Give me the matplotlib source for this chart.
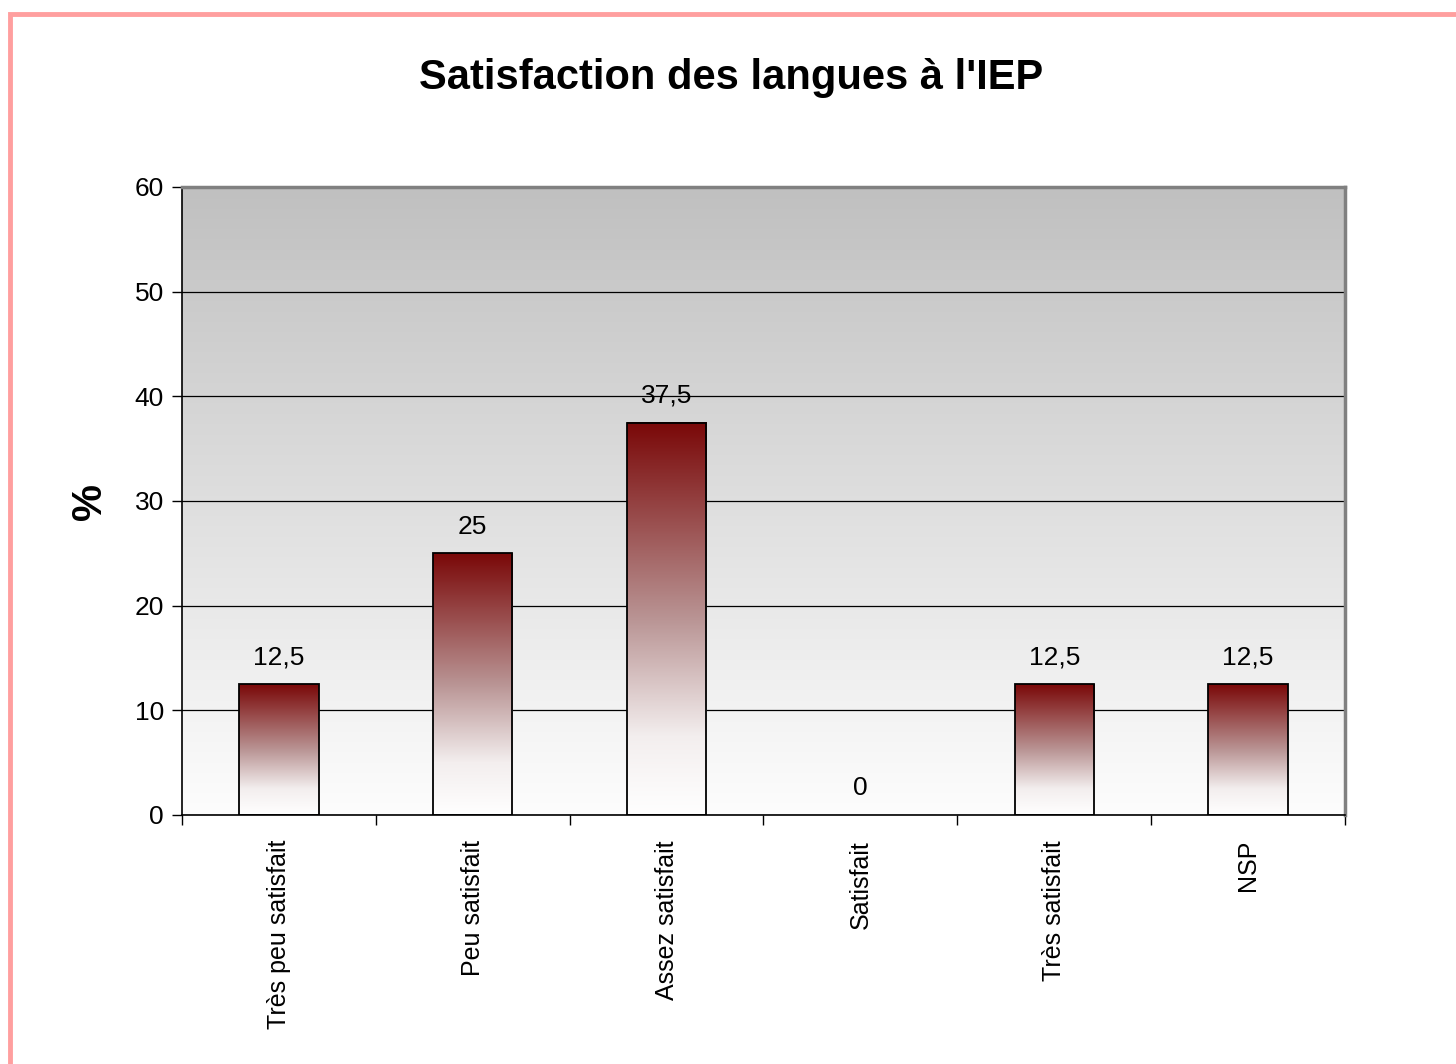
import numpy as np
import matplotlib.pyplot as plt
from matplotlib.colors import LinearSegmentedColormap
from matplotlib.patches import Rectangle

plt.rcParams['font.family'] = ['Liberation Sans', 'DejaVu Sans']

categories = ['Très peu satisfait', 'Peu satisfait', 'Assez satisfait',
              'Satisfait', 'Très satisfait', 'NSP']
values = [12.5, 25, 37.5, 0, 12.5, 12.5]
value_labels = ['12,5', '25', '37,5', '0', '12,5', '12,5']

fig = plt.figure(figsize=(14.56, 10.64), dpi=100)

# cadre rose autour de la figure
fig.patches.append(Rectangle((10 / 1456, -0.05), 1.2, (1064 - 14) / 1064 + 0.05,
                             transform=fig.transFigure, fill=False,
                             edgecolor='#ff9f9f', linewidth=3.5, zorder=0))

ax = fig.add_axes([182 / 1456, 1 - 815 / 1064, (1345 - 182) / 1456, (815 - 187) / 1064])

x = np.arange(len(categories))
xmin, xmax = -0.5, len(categories) - 0.5

# fond dégradé gris -> blanc
fond = LinearSegmentedColormap.from_list('fond', ['#fdfdfd', '#c0c0c0'])
grad = np.linspace(0, 1, 256).reshape(-1, 1)
ax.imshow(grad, cmap=fond, aspect='auto', origin='lower',
          extent=(xmin, xmax, 0, 60), zorder=0)

ax.set_yticks(range(0, 61, 10))
ax.yaxis.grid(True, color='black', linewidth=0.9, zorder=1)
ax.set_axisbelow(True)

# barres avec dégradé rouge foncé -> blanc
rouge = LinearSegmentedColormap.from_list(
    'rouge', [(0, '#ffffff'), (0.2, '#f3eeee'), (0.5, '#b99494'), (1, '#7a0808')])
largeur = 0.41
for xi, v, lab in zip(x, values, value_labels):
    if v > 0:
        ax.imshow(grad, cmap=rouge, aspect='auto', origin='lower',
                  extent=(xi - largeur / 2, xi + largeur / 2, 0, v), zorder=2)
        ax.add_patch(Rectangle((xi - largeur / 2, 0), largeur, v, fill=False,
                               edgecolor='black', linewidth=1.3, zorder=3))
    ax.text(xi, v + 1.4, lab, ha='center', va='bottom', fontsize=19, zorder=4)

ax.set_xlim(xmin, xmax)
ax.set_ylim(0, 60)

ax.set_xticks(x)
ax.set_xticklabels(categories, rotation=90, fontsize=18)
ax.tick_params(axis='x', length=0, pad=18)
ax.set_xticks(np.arange(xmin, xmax + 1, 1), minor=True)
ax.tick_params(axis='x', which='minor', length=7, width=1, direction='out')
ax.tick_params(axis='y', labelsize=19, length=7, width=1, direction='out', pad=6)

for s in ['left', 'bottom']:
    ax.spines[s].set_color('black')
    ax.spines[s].set_linewidth(1.2)
for s in ['top', 'right']:
    ax.spines[s].set_color('#808080')
    ax.spines[s].set_linewidth(2.5)

ax.set_ylabel('%', fontsize=30, fontweight='bold', labelpad=18)
fig.text((419 + 1043) / 2 / 1456, 1 - 78 / 1064, "Satisfaction des langues à l'IEP",
         ha='center', va='center', fontsize=30, fontweight='bold')

fig.savefig('out.png', dpi=100)
